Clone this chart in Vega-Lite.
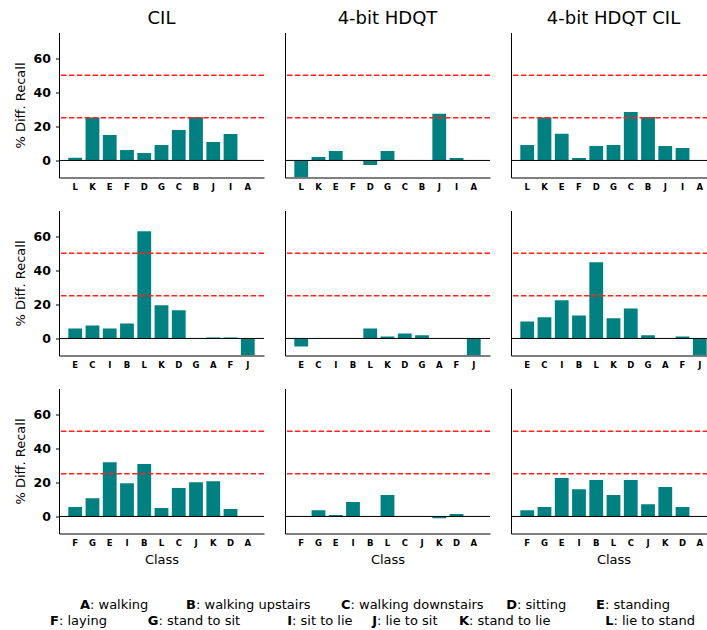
{
"$schema": "https://vega.github.io/schema/vega-lite/v6.json",
"padding": {"left": 14, "top": 9.5, "right": 0, "bottom": 0},
"config": {
  "font": "DejaVu Sans",
  "view": {"stroke": null},
  "axis": {"grid": false, "domainColor": "black", "domainWidth": 1, "tickColor": "black", "labelColor": "black", "titleColor": "black", "titleFontWeight": "normal", "titleFontSize": 13},
  "title": {"fontSize": 18, "fontWeight": "normal", "color": "black", "anchor": "middle"},
  "concat": {"spacing": 19}
},
"datasets": {
  "r1_cil": [{"cls":"L","v":1.6},{"cls":"K","v":25.1},{"cls":"E","v":14.9},{"cls":"F","v":6.1},{"cls":"D","v":4.3},{"cls":"G","v":9.0},{"cls":"C","v":17.8},{"cls":"B","v":25.3},{"cls":"J","v":10.8},{"cls":"I","v":15.5},{"cls":"A","v":0}],
  "r1_hdqt": [{"cls":"L","v":-10},{"cls":"K","v":2.0},{"cls":"E","v":5.5},{"cls":"F","v":0},{"cls":"D","v":-2.7},{"cls":"G","v":5.5},{"cls":"C","v":0},{"cls":"B","v":0},{"cls":"J","v":27.3},{"cls":"I","v":1.4},{"cls":"A","v":0}],
  "r1_hcil": [{"cls":"L","v":9.0},{"cls":"K","v":25.1},{"cls":"E","v":15.7},{"cls":"F","v":1.4},{"cls":"D","v":8.4},{"cls":"G","v":9.0},{"cls":"C","v":28.4},{"cls":"B","v":25.5},{"cls":"J","v":8.4},{"cls":"I","v":7.3},{"cls":"A","v":0}],
  "r2_cil": [{"cls":"E","v":5.9},{"cls":"C","v":7.6},{"cls":"I","v":5.9},{"cls":"B","v":8.8},{"cls":"L","v":62.9},{"cls":"K","v":19.4},{"cls":"D","v":16.5},{"cls":"G","v":0},{"cls":"A","v":0.6},{"cls":"F","v":0.6},{"cls":"J","v":-10}],
  "r2_hdqt": [{"cls":"E","v":-4.7},{"cls":"C","v":0},{"cls":"I","v":0},{"cls":"B","v":0},{"cls":"L","v":5.9},{"cls":"K","v":1.2},{"cls":"D","v":2.9},{"cls":"G","v":1.8},{"cls":"A","v":0},{"cls":"F","v":0},{"cls":"J","v":-10}],
  "r2_hcil": [{"cls":"E","v":10.0},{"cls":"C","v":12.4},{"cls":"I","v":22.4},{"cls":"B","v":13.5},{"cls":"L","v":44.7},{"cls":"K","v":11.8},{"cls":"D","v":17.6},{"cls":"G","v":1.8},{"cls":"A","v":0},{"cls":"F","v":1.2},{"cls":"J","v":-10}],
  "r3_cil": [{"cls":"F","v":5.5},{"cls":"G","v":10.7},{"cls":"E","v":31.8},{"cls":"I","v":19.5},{"cls":"B","v":30.7},{"cls":"L","v":4.9},{"cls":"C","v":16.6},{"cls":"J","v":20.1},{"cls":"K","v":20.7},{"cls":"D","v":4.3},{"cls":"A","v":0}],
  "r3_hdqt": [{"cls":"F","v":0},{"cls":"G","v":3.7},{"cls":"E","v":0.8},{"cls":"I","v":8.4},{"cls":"B","v":0},{"cls":"L","v":12.5},{"cls":"C","v":0},{"cls":"J","v":0},{"cls":"K","v":-1.0},{"cls":"D","v":1.4},{"cls":"A","v":0}],
  "r3_hcil": [{"cls":"F","v":3.7},{"cls":"G","v":5.5},{"cls":"E","v":22.5},{"cls":"I","v":16.0},{"cls":"B","v":21.3},{"cls":"L","v":12.5},{"cls":"C","v":21.3},{"cls":"J","v":7.2},{"cls":"K","v":17.2},{"cls":"D","v":5.5},{"cls":"A","v":0}],
  "zero": [{"v": 0}],
  "refs": [{"v": 25}, {"v": 50}],
  "legend": [
    {"i":0,"line":1,"key":"A","label":": walking"},
    {"i":1,"line":1,"key":"B","label":": walking upstairs"},
    {"i":2,"line":1,"key":"C","label":": walking downstairs"},
    {"i":3,"line":1,"key":"D","label":": sitting"},
    {"i":4,"line":1,"key":"E","label":": standing"},
    {"i":5,"line":2,"key":"F","label":": laying"},
    {"i":6,"line":2,"key":"G","label":": stand to sit"},
    {"i":7,"line":2,"key":"I","label":": sit to lie"},
    {"i":8,"line":2,"key":"J","label":": lie to sit"},
    {"i":9,"line":2,"key":"K","label":": stand to lie"},
    {"i":10,"line":2,"key":"L","label":": lie to stand"}
  ]
},
"vconcat": [
  {"hconcat": [
    {"width": 205, "height": 145, "title": {"text": "CIL", "offset": 4.5},
     "layer": [
      {"data": {"name": "r1_cil"}, "mark": {"type": "bar", "color": "#008080", "clip": true},
       "encoding": {
        "x": {"field": "cls", "type": "nominal", "scale": {"domain": ["L","K","E","F","D","G","C","B","J","I","A"], "paddingInner": 0.2, "paddingOuter": 0.54}, "axis": {"title": null, "labelAngle": 0, "labelFontWeight": "bold", "labelFontSize": 8.5, "ticks": false, "labelPadding": 5}},
        "y": {"field": "v", "type": "quantitative", "title": "% Diff. Recall", "scale": {"domain": [-10, 75], "nice": false}, "axis": {"values": [0, 20, 40, 60], "labelFontWeight": "bold", "labelFontSize": 12.5, "tickSize": 3.5, "labelPadding": 5, "titlePadding": 6}}}},
      {"data": {"name": "zero"}, "mark": {"type": "rule", "color": "black", "strokeWidth": 1}, "encoding": {"y": {"field": "v", "type": "quantitative", "title": "% Diff. Recall"}}},
      {"data": {"name": "refs"}, "mark": {"type": "rule", "color": "#ff2020", "strokeDash": [5.5, 2.4], "strokeWidth": 1.5}, "encoding": {"y": {"field": "v", "type": "quantitative", "title": "% Diff. Recall"}}}
     ]},
    {"width": 205, "height": 145, "title": {"text": "4-bit HDQT", "offset": 4.5},
     "layer": [
      {"data": {"name": "r1_hdqt"}, "mark": {"type": "bar", "color": "#008080", "clip": true},
       "encoding": {
        "x": {"field": "cls", "type": "nominal", "scale": {"domain": ["L","K","E","F","D","G","C","B","J","I","A"], "paddingInner": 0.2, "paddingOuter": 0.54}, "axis": {"title": null, "labelAngle": 0, "labelFontWeight": "bold", "labelFontSize": 8.5, "ticks": false, "labelPadding": 5}},
        "y": {"field": "v", "type": "quantitative", "title": null, "scale": {"domain": [-10, 75], "nice": false}, "axis": {"labels": false, "ticks": false, "title": null}}}},
      {"data": {"name": "zero"}, "mark": {"type": "rule", "color": "black", "strokeWidth": 1}, "encoding": {"y": {"field": "v", "type": "quantitative", "title": null}}},
      {"data": {"name": "refs"}, "mark": {"type": "rule", "color": "#ff2020", "strokeDash": [5.5, 2.4], "strokeWidth": 1.5}, "encoding": {"y": {"field": "v", "type": "quantitative", "title": null}}}
     ]},
    {"width": 205, "height": 145, "title": {"text": "4-bit HDQT CIL", "offset": 4.5},
     "layer": [
      {"data": {"name": "r1_hcil"}, "mark": {"type": "bar", "color": "#008080", "clip": true},
       "encoding": {
        "x": {"field": "cls", "type": "nominal", "scale": {"domain": ["L","K","E","F","D","G","C","B","J","I","A"], "paddingInner": 0.2, "paddingOuter": 0.54}, "axis": {"title": null, "labelAngle": 0, "labelFontWeight": "bold", "labelFontSize": 8.5, "ticks": false, "labelPadding": 5}},
        "y": {"field": "v", "type": "quantitative", "title": null, "scale": {"domain": [-10, 75], "nice": false}, "axis": {"labels": false, "ticks": false, "title": null}}}},
      {"data": {"name": "zero"}, "mark": {"type": "rule", "color": "black", "strokeWidth": 1}, "encoding": {"y": {"field": "v", "type": "quantitative", "title": null}}},
      {"data": {"name": "refs"}, "mark": {"type": "rule", "color": "#ff2020", "strokeDash": [5.5, 2.4], "strokeWidth": 1.5}, "encoding": {"y": {"field": "v", "type": "quantitative", "title": null}}}
     ]}
  ]},
  {"hconcat": [
    {"width": 205, "height": 145,
     "layer": [
      {"data": {"name": "r2_cil"}, "mark": {"type": "bar", "color": "#008080", "clip": true},
       "encoding": {
        "x": {"field": "cls", "type": "nominal", "scale": {"domain": ["E","C","I","B","L","K","D","G","A","F","J"], "paddingInner": 0.2, "paddingOuter": 0.54}, "axis": {"title": null, "labelAngle": 0, "labelFontWeight": "bold", "labelFontSize": 8.5, "ticks": false, "labelPadding": 5}},
        "y": {"field": "v", "type": "quantitative", "title": "% Diff. Recall", "scale": {"domain": [-10, 75], "nice": false}, "axis": {"values": [0, 20, 40, 60], "labelFontWeight": "bold", "labelFontSize": 12.5, "tickSize": 3.5, "labelPadding": 5, "titlePadding": 6}}}},
      {"data": {"name": "zero"}, "mark": {"type": "rule", "color": "black", "strokeWidth": 1}, "encoding": {"y": {"field": "v", "type": "quantitative", "title": "% Diff. Recall"}}},
      {"data": {"name": "refs"}, "mark": {"type": "rule", "color": "#ff2020", "strokeDash": [5.5, 2.4], "strokeWidth": 1.5}, "encoding": {"y": {"field": "v", "type": "quantitative", "title": "% Diff. Recall"}}}
     ]},
    {"width": 205, "height": 145,
     "layer": [
      {"data": {"name": "r2_hdqt"}, "mark": {"type": "bar", "color": "#008080", "clip": true},
       "encoding": {
        "x": {"field": "cls", "type": "nominal", "scale": {"domain": ["E","C","I","B","L","K","D","G","A","F","J"], "paddingInner": 0.2, "paddingOuter": 0.54}, "axis": {"title": null, "labelAngle": 0, "labelFontWeight": "bold", "labelFontSize": 8.5, "ticks": false, "labelPadding": 5}},
        "y": {"field": "v", "type": "quantitative", "title": null, "scale": {"domain": [-10, 75], "nice": false}, "axis": {"labels": false, "ticks": false, "title": null}}}},
      {"data": {"name": "zero"}, "mark": {"type": "rule", "color": "black", "strokeWidth": 1}, "encoding": {"y": {"field": "v", "type": "quantitative", "title": null}}},
      {"data": {"name": "refs"}, "mark": {"type": "rule", "color": "#ff2020", "strokeDash": [5.5, 2.4], "strokeWidth": 1.5}, "encoding": {"y": {"field": "v", "type": "quantitative", "title": null}}}
     ]},
    {"width": 205, "height": 145,
     "layer": [
      {"data": {"name": "r2_hcil"}, "mark": {"type": "bar", "color": "#008080", "clip": true},
       "encoding": {
        "x": {"field": "cls", "type": "nominal", "scale": {"domain": ["E","C","I","B","L","K","D","G","A","F","J"], "paddingInner": 0.2, "paddingOuter": 0.54}, "axis": {"title": null, "labelAngle": 0, "labelFontWeight": "bold", "labelFontSize": 8.5, "ticks": false, "labelPadding": 5}},
        "y": {"field": "v", "type": "quantitative", "title": null, "scale": {"domain": [-10, 75], "nice": false}, "axis": {"labels": false, "ticks": false, "title": null}}}},
      {"data": {"name": "zero"}, "mark": {"type": "rule", "color": "black", "strokeWidth": 1}, "encoding": {"y": {"field": "v", "type": "quantitative", "title": null}}},
      {"data": {"name": "refs"}, "mark": {"type": "rule", "color": "#ff2020", "strokeDash": [5.5, 2.4], "strokeWidth": 1.5}, "encoding": {"y": {"field": "v", "type": "quantitative", "title": null}}}
     ]}
  ]},
  {"hconcat": [
    {"width": 205, "height": 145,
     "layer": [
      {"data": {"name": "r3_cil"}, "mark": {"type": "bar", "color": "#008080", "clip": true},
       "encoding": {
        "x": {"field": "cls", "type": "nominal", "title": "Class", "scale": {"domain": ["F","G","E","I","B","L","C","J","K","D","A"], "paddingInner": 0.2, "paddingOuter": 0.54}, "axis": {"labelAngle": 0, "labelFontWeight": "bold", "labelFontSize": 8.5, "ticks": false, "labelPadding": 5, "titlePadding": 6}},
        "y": {"field": "v", "type": "quantitative", "title": "% Diff. Recall", "scale": {"domain": [-10, 75], "nice": false}, "axis": {"values": [0, 20, 40, 60], "labelFontWeight": "bold", "labelFontSize": 12.5, "tickSize": 3.5, "labelPadding": 5, "titlePadding": 6}}}},
      {"data": {"name": "zero"}, "mark": {"type": "rule", "color": "black", "strokeWidth": 1}, "encoding": {"y": {"field": "v", "type": "quantitative", "title": "% Diff. Recall"}}},
      {"data": {"name": "refs"}, "mark": {"type": "rule", "color": "#ff2020", "strokeDash": [5.5, 2.4], "strokeWidth": 1.5}, "encoding": {"y": {"field": "v", "type": "quantitative", "title": "% Diff. Recall"}}}
     ]},
    {"width": 205, "height": 145,
     "layer": [
      {"data": {"name": "r3_hdqt"}, "mark": {"type": "bar", "color": "#008080", "clip": true},
       "encoding": {
        "x": {"field": "cls", "type": "nominal", "title": "Class", "scale": {"domain": ["F","G","E","I","B","L","C","J","K","D","A"], "paddingInner": 0.2, "paddingOuter": 0.54}, "axis": {"labelAngle": 0, "labelFontWeight": "bold", "labelFontSize": 8.5, "ticks": false, "labelPadding": 5, "titlePadding": 6}},
        "y": {"field": "v", "type": "quantitative", "title": null, "scale": {"domain": [-10, 75], "nice": false}, "axis": {"labels": false, "ticks": false, "title": null}}}},
      {"data": {"name": "zero"}, "mark": {"type": "rule", "color": "black", "strokeWidth": 1}, "encoding": {"y": {"field": "v", "type": "quantitative", "title": null}}},
      {"data": {"name": "refs"}, "mark": {"type": "rule", "color": "#ff2020", "strokeDash": [5.5, 2.4], "strokeWidth": 1.5}, "encoding": {"y": {"field": "v", "type": "quantitative", "title": null}}}
     ]},
    {"width": 205, "height": 145,
     "layer": [
      {"data": {"name": "r3_hcil"}, "mark": {"type": "bar", "color": "#008080", "clip": true},
       "encoding": {
        "x": {"field": "cls", "type": "nominal", "title": "Class", "scale": {"domain": ["F","G","E","I","B","L","C","J","K","D","A"], "paddingInner": 0.2, "paddingOuter": 0.54}, "axis": {"labelAngle": 0, "labelFontWeight": "bold", "labelFontSize": 8.5, "ticks": false, "labelPadding": 5, "titlePadding": 6}},
        "y": {"field": "v", "type": "quantitative", "title": null, "scale": {"domain": [-10, 75], "nice": false}, "axis": {"labels": false, "ticks": false, "title": null}}}},
      {"data": {"name": "zero"}, "mark": {"type": "rule", "color": "black", "strokeWidth": 1}, "encoding": {"y": {"field": "v", "type": "quantitative", "title": null}}},
      {"data": {"name": "refs"}, "mark": {"type": "rule", "color": "#ff2020", "strokeDash": [5.5, 2.4], "strokeWidth": 1.5}, "encoding": {"y": {"field": "v", "type": "quantitative", "title": null}}}
     ]}
  ]},
  {"width": 640, "height": 45, "data": {"name": "legend"},
   "layer": [
    {"mark": {"type": "text", "align": "right", "baseline": "alphabetic", "fontWeight": "bold", "fontSize": 13, "color": "black"},
     "encoding": {
      "x": {"field": "i", "type": "quantitative", "axis": null, "scale": {"domain": [0,1,2,3,4,5,6,7,8,9,10], "range": [31,137,291.5,458,546,0,99.5,233,318,410,554.5], "zero": false, "nice": false}},
      "y": {"field": "line", "type": "quantitative", "axis": null, "scale": {"domain": [1, 2], "range": [23, 39], "zero": false, "nice": false}},
      "text": {"field": "key"}}},
    {"mark": {"type": "text", "align": "left", "baseline": "alphabetic", "fontSize": 13, "color": "black"},
     "encoding": {
      "x": {"field": "i", "type": "quantitative", "axis": null, "scale": {"domain": [0,1,2,3,4,5,6,7,8,9,10], "range": [31,137,291.5,458,546,0,99.5,233,318,410,554.5], "zero": false, "nice": false}},
      "y": {"field": "line", "type": "quantitative", "axis": null, "scale": {"domain": [1, 2], "range": [23, 39], "zero": false, "nice": false}},
      "text": {"field": "label"}}}
   ]}
]
}
